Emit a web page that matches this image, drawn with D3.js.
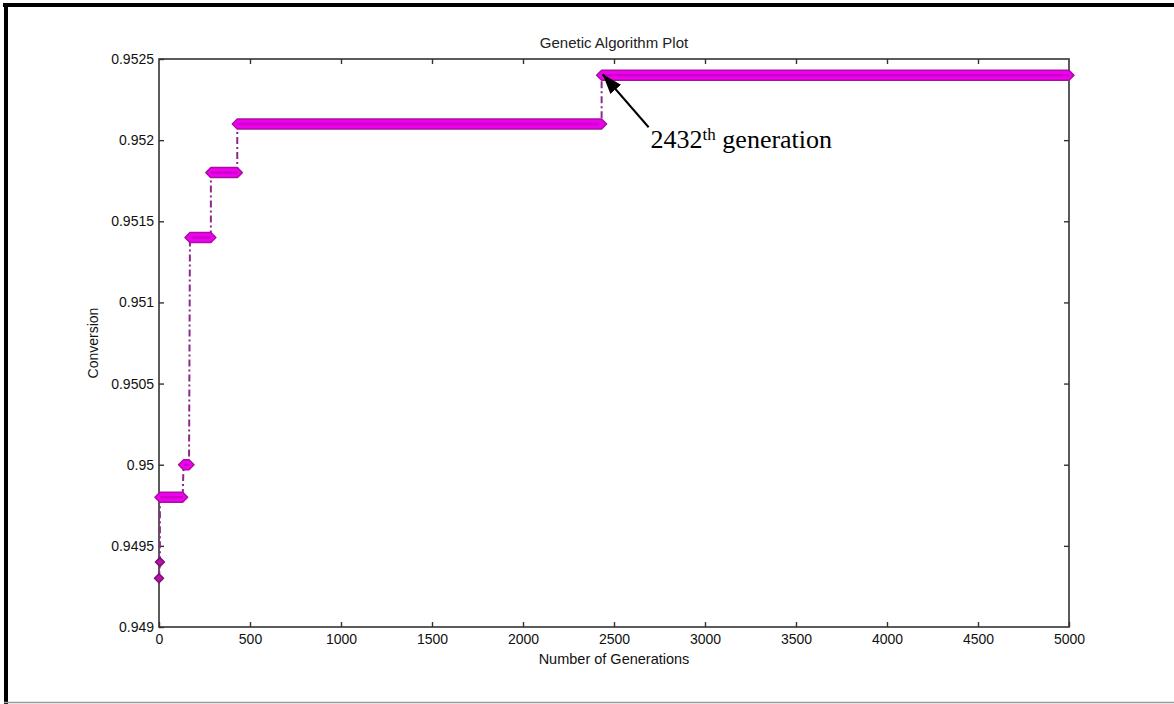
<!DOCTYPE html>
<html>
<head>
<meta charset="utf-8">
<script src="https://cdn.jsdelivr.net/npm/d3@7"></script>
<style>
  html, body { margin: 0; padding: 0; background: #fff; }
  svg { display: block; }
  text { font-family: "Liberation Sans", Arial, sans-serif; }
</style>
</head>
<body>
<svg id="chart" width="1174" height="704"></svg>
<script>
// ---- data ----
const stepValues = [0.9493, 0.9494, 0.9498, 0.9500, 0.9514, 0.9518, 0.9521, 0.9524];
const stepStart  = [0,      5,      5,      135,    170,    285,    430,    2432];
const stepEnd    = [0,      5,      130,    165,    285,    430,    2432,   5000];
const xTicks = [0, 500, 1000, 1500, 2000, 2500, 3000, 3500, 4000, 4500, 5000];
const xTickLabels = ["0", "500", "1000", "1500", "2000", "2500", "3000", "3500", "4000", "4500", "5000"];
const yTicks = [0.949, 0.9495, 0.95, 0.9505, 0.951, 0.9515, 0.952, 0.9525];
const yTickLabels = ["0.949", "0.9495", "0.95", "0.9505", "0.951", "0.9515", "0.952", "0.9525"];
const annotGen = 2432;
const annotValue = 0.9524;
const titleText = "Genetic Algorithm Plot";
const xLabelText = "Number of Generations";
const yLabelText = "Conversion";

// ---- layout ----
const W = 1174, H = 704;
const plot = { left: 159, right: 1069, top: 59, bottom: 627 };
const svg = d3.select("#chart");

// outer frame
svg.append("rect").attr("x", 0).attr("y", 0).attr("width", W).attr("height", H).attr("fill", "#fff");
svg.append("line").attr("x1", 3).attr("x2", W).attr("y1", 5).attr("y2", 5).attr("stroke", "#000").attr("stroke-width", 4);
svg.append("line").attr("x1", 6).attr("x2", 6).attr("y1", 3).attr("y2", H).attr("stroke", "#000").attr("stroke-width", 4);
svg.append("line").attr("x1", 4).attr("x2", W).attr("y1", 702.5).attr("y2", 702.5).attr("stroke", "#9a9a9a").attr("stroke-width", 1.5);

const x = d3.scaleLinear().domain([0, 5000]).range([plot.left, plot.right]);
const y = d3.scaleLinear().domain([0.949, 0.9525]).range([plot.bottom, plot.top]);

const axisColor = "#333";
function styleAxis(g, showLabels) {
  g.select(".domain").remove();
  g.selectAll(".tick line").attr("stroke", axisColor).attr("stroke-width", 1.4);
  g.selectAll(".tick text").attr("fill", "#111").style("font-size", "14px")
    .style("font-family", "'Liberation Sans', Arial, sans-serif");
  if (!showLabels) g.selectAll(".tick text").remove();
}

// axes (ticks inward like MATLAB)
svg.append("g").attr("transform", `translate(0,${plot.bottom})`)
  .call(d3.axisBottom(x).tickValues(xTicks).tickFormat((d, i) => xTickLabels[i]).tickSizeInner(-5).tickSizeOuter(0).tickPadding(7))
  .call(g => styleAxis(g, true));
svg.append("g").attr("transform", `translate(0,${plot.top})`)
  .call(d3.axisTop(x).tickValues(xTicks.slice(1, -1)).tickSizeInner(-5).tickSizeOuter(0))
  .call(g => styleAxis(g, false));
svg.append("g").attr("transform", `translate(${plot.left},0)`)
  .call(d3.axisLeft(y).tickValues(yTicks).tickFormat((d, i) => yTickLabels[i]).tickSizeInner(-5).tickSizeOuter(0).tickPadding(5))
  .call(g => styleAxis(g, true));
svg.append("g").attr("transform", `translate(${plot.right},0)`)
  .call(d3.axisRight(y).tickValues(yTicks.slice(1, -1)).tickSizeInner(-5).tickSizeOuter(0))
  .call(g => styleAxis(g, false));

// axis box
svg.append("rect").attr("x", plot.left).attr("y", plot.top)
  .attr("width", plot.right - plot.left).attr("height", plot.bottom - plot.top)
  .attr("fill", "none").attr("stroke", axisColor).attr("stroke-width", 1.6);

// connecting dash-dot line
const pts = [];
stepValues.forEach((v, i) => { pts.push([stepStart[i], v]); pts.push([stepEnd[i], v]); });
const line = d3.line().x(d => x(d[0])).y(d => y(d[1]));
svg.append("path").attr("d", line(pts)).attr("fill", "none")
  .attr("stroke", "#8a2a8a").attr("stroke-width", 2).attr("stroke-dasharray", "7,3,2,3");

// step markers (overlapping markers look like thick bars with pointed ends)
const half = 5, tip = 5;
stepValues.forEach((v, i) => {
  const x0 = x(stepStart[i]), x1 = x(stepEnd[i]), yy = y(v);
  const single = stepStart[i] === stepEnd[i];
  const p = single
    ? [[x0 - 4.5, yy], [x0, yy - 4.5], [x0 + 4.5, yy], [x0, yy + 4.5]]
    : [[x0 - tip, yy], [x0, yy - half], [x1, yy - half], [x1 + tip, yy], [x1, yy + half], [x0, yy + half]];
  svg.append("polygon").attr("points", p.map(q => q.join(",")).join(" "))
    .attr("fill", single ? "#b514a8" : "#f000f0")
    .attr("stroke", single ? "#7a1070" : "#a8109f").attr("stroke-width", 1.5)
    .attr("stroke-linejoin", "round");
  if (!single) {
    svg.append("line").attr("x1", x0).attr("x2", x1).attr("y1", yy).attr("y2", yy)
      .attr("stroke", "#cc00c8").attr("stroke-width", 2.5);
  }
});

// title & labels
svg.append("text").attr("x", (plot.left + plot.right) / 2).attr("y", 48)
  .attr("text-anchor", "middle").style("font-size", "15px").attr("fill", "#222").text(titleText);
svg.append("text").attr("x", (plot.left + plot.right) / 2).attr("y", 664)
  .attr("text-anchor", "middle").style("font-size", "14.5px").attr("fill", "#111").text(xLabelText);
svg.append("text").attr("transform", `translate(98,${(plot.top + plot.bottom) / 2}) rotate(-90)`)
  .attr("text-anchor", "middle").style("font-size", "14px").attr("fill", "#111").text(yLabelText);

// annotation arrow
const ax = x(annotGen), ay = y(annotValue);
svg.append("defs").append("marker").attr("id", "arrow")
  .attr("viewBox", "0 0 10 10").attr("refX", 10).attr("refY", 5)
  .attr("markerWidth", 9).attr("markerHeight", 9).attr("markerUnits", "userSpaceOnUse")
  .attr("orient", "auto")
  .append("path").attr("d", "M0,0 L10,5 L0,10 z").attr("fill", "#000");
svg.select("#arrow").attr("markerWidth", 20).attr("markerHeight", 14).attr("viewBox", "0 0 20 14").attr("refX", 20).attr("refY", 7)
  .select("path").attr("d", "M0,0 L20,7 L0,14 z");
svg.append("line").attr("x1", ax + 47).attr("y1", ay + 52).attr("x2", ax + 1).attr("y2", ay - 1)
  .attr("stroke", "#000").attr("stroke-width", 2).attr("marker-end", "url(#arrow)");

const ann = svg.append("text").attr("x", ax + 49).attr("y", ay + 73)
  .style("font-family", "'Liberation Serif', 'Times New Roman', serif").style("font-size", "26px").attr("fill", "#000");
ann.append("tspan").text("2432");
ann.append("tspan").attr("dy", -8).style("font-size", "17px").text("th");
ann.append("tspan").attr("dy", 8).text(" generation");
</script>
</body>
</html>
